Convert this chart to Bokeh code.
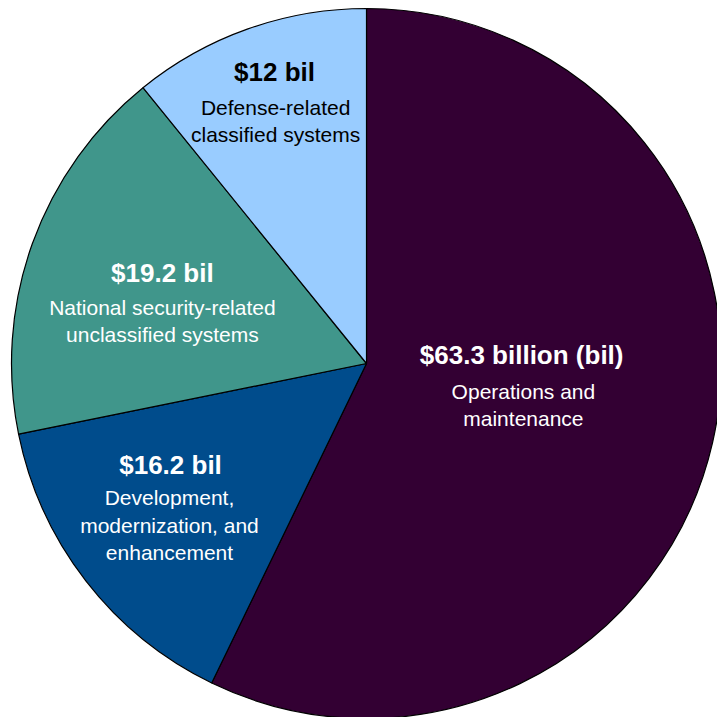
import math
from bokeh.plotting import figure
from bokeh.models import ColumnDataSource, Range1d
from bokeh.core.properties import value
from bokeh.embed import file_html
from bokeh.resources import INLINE

# ---- data ----
categories = ["Operations and maintenance",
              "Development, modernization, and enhancement",
              "National security-related unclassified systems",
              "Defense-related classified systems"]
amounts = [63.3, 16.2, 19.2, 12.0]
value_labels = ["$63.3 billion (bil)", "$16.2 bil", "$19.2 bil", "$12 bil"]
desc_labels = ["Operations and\nmaintenance",
               "Development,\nmodernization, and\nenhancement",
               "National security-related\nunclassified systems",
               "Defense-related\nclassified systems"]

# ---- styles / layout ----
colors = ["#330033", "#004C8C", "#40968B", "#99CCFF"]
text_colors = ["white", "white", "white", "black"]
value_pos = [(0.437, 0.023), (-0.552, -0.287), (-0.575, 0.254), (-0.259, 0.820)]
desc_pos = [(0.442, -0.117), (-0.555, -0.456), (-0.575, 0.120), (-0.256, 0.683)]

R = 355.0  # pixels per unit radius
W, H = 717, 717
cx, cy = 366.0, 363.0  # centre inside figure (px from left/top)

total = sum(amounts)
starts, ends = [], []
cum = 0.0
for a in amounts:
    # clockwise from 12 o'clock
    end = math.pi / 2 - cum / total * 2 * math.pi
    start = math.pi / 2 - (cum + a) / total * 2 * math.pi
    starts.append(start)
    ends.append(end)
    cum += a

src = ColumnDataSource(dict(cat=categories, amt=amounts, start=starts, end=ends, color=colors))

p = figure(width=W, height=H, output_backend="svg", toolbar_location=None,
           x_range=Range1d(-cx / R, (W - cx) / R), y_range=Range1d(-(H - cy) / R, cy / R),
           min_border=0, x_axis_location=None, y_axis_location=None)
p.outline_line_color = None
p.grid.visible = False
p.background_fill_color = "white"

p.wedge(x=0, y=0, radius=1.0, start_angle="start", end_angle="end", source=src,
        fill_color="color", line_color="black", line_width=1.2)

vsrc = ColumnDataSource(dict(x=[q[0] for q in value_pos], y=[q[1] for q in value_pos],
                             t=value_labels, c=text_colors))
dsrc = ColumnDataSource(dict(x=[q[0] for q in desc_pos], y=[q[1] for q in desc_pos],
                             t=desc_labels, c=text_colors))

p.text(x="x", y="y", text="t", source=vsrc, text_color="c",
       text_font=value("Liberation Sans"), text_font_style="bold", text_font_size="26px",
       text_align="center", text_baseline="middle")
p.text(x="x", y="y", text="t", source=dsrc, text_color="c",
       text_font=value("Liberation Sans"), text_font_size="21px", text_line_height=1.2,
       text_align="center", text_baseline="middle")

open("out.html", "w").write(file_html(p, INLINE))
